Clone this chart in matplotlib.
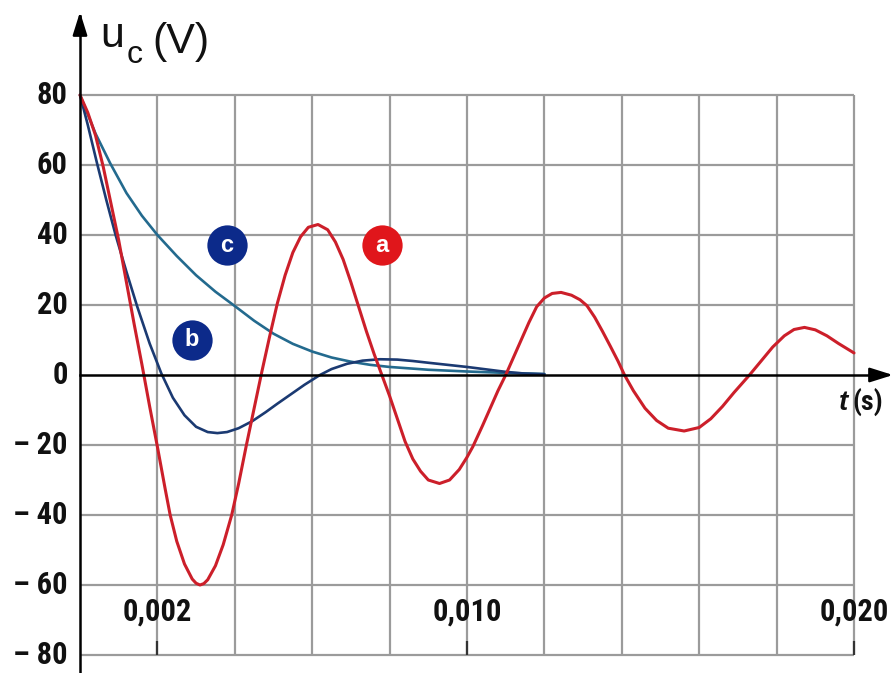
import numpy as np
import matplotlib
matplotlib.use("Agg")
import matplotlib.pyplot as plt
from matplotlib import font_manager as fm

# ---------------- data (time in ms, voltage in V) ----------------
a_t = [0, 0.2, 0.4, 0.6, 0.8, 1.0, 1.2, 1.4, 1.6, 1.8, 2.0, 2.2, 2.33, 2.5, 2.7, 2.9, 3.0, 3.1,
       3.2, 3.3, 3.5, 3.7, 3.92, 4.1, 4.3, 4.5, 4.7, 4.9, 5.1, 5.3, 5.5, 5.7, 5.9, 6.15,
       6.4, 6.6, 6.8, 7.0, 7.2, 7.4, 7.6, 7.8, 8.0, 8.2, 8.4, 8.6, 8.8, 9.0, 9.29,
       9.55, 9.8, 10.0, 10.15, 10.4, 10.6, 10.8, 11.0, 11.2, 11.4, 11.6, 11.8, 12.0, 12.2,
       12.43, 12.7, 12.92, 13.1, 13.3, 13.5, 13.7, 13.9, 14.07, 14.3, 14.6, 14.9, 15.2,
       15.61, 16.0, 16.3, 16.6, 16.9, 17.3, 17.6, 17.9, 18.2, 18.45, 18.72, 19.0, 19.3,
       19.6, 20.0]
a_v = [80, 75, 68.5, 59.5, 49, 38.5, 26.5, 14.5, 3, -9, -20.5, -32.5, -40, -47.5, -54, -58.3, -59.5, -60,
       -59.6, -58.5, -54.5, -48.5, -40, -31, -20, -9.5, 1, 11, 20.5, 28.5, 35, 39.5, 42.2, 43,
       41.5, 38, 33, 26.5, 19.5, 12.5, 6, 0, -6, -12.5, -19, -24, -27.5, -30, -31,
       -30, -27, -23.5, -20.5, -14.5, -9.5, -4.5, 0, 5, 10, 15, 19.5, 22, 23.3,
       23.6, 22.8, 21.5, 19.8, 16.5, 12.5, 8.3, 4, 0, -4.5, -9.5, -13, -15.2,
       -16, -15, -12.5, -9, -5, 0, 4, 8, 11.2, 13, 13.6, 12.9, 11.2,
       9, 6.3]

b_t = [0, 0.2, 0.44, 0.68, 0.92, 1.2, 1.48, 1.8, 2.1, 2.4, 2.7, 3.0, 3.3, 3.55, 3.8,
       4.1, 4.45, 4.8, 5.1, 5.45, 5.8, 6.2, 6.5, 6.9, 7.3, 7.75, 8.2, 8.6, 9.0, 9.5,
       10.0, 10.5, 11.0, 11.5, 12.0]
b_v = [80, 71.5, 60.5, 50, 40, 29.5, 19.5, 9, 0.5, -6.5, -11.5, -14.8, -16.3, -16.6, -16.3,
       -15.2, -13.2, -10.6, -8.2, -5.5, -2.8, 0, 1.7, 3.2, 4.1, 4.5, 4.4, 4.0, 3.5, 2.9,
       2.3, 1.6, 0.9, 0.4, 0.2]

c_t = [0, 0.4, 0.78, 1.2, 1.6, 2.0, 2.5, 3.0, 3.5, 4.0, 4.5, 5.0, 5.5, 6.0, 6.5,
       7.0, 7.5, 8.0, 9.0, 10.0, 11.0, 12.0]
c_v = [80, 69, 60.5, 52, 45.5, 40, 34, 28.5, 23.8, 19.7, 15.5, 11.8, 8.9, 6.7, 5.0,
       3.8, 2.9, 2.3, 1.5, 1.0, 0.6, 0.3]

y_ticks = [80, 60, 40, 20, 0, -20, -40, -60, -80]
y_tick_labels = ["80", "60", "40", "20", "0", "\u2013 20", "\u2013 40", "\u2013 60", "\u2013 80"]
x_ticks = [0.002, 0.010, 0.020]
x_tick_labels = ["0,002", "0,010", "0,020"]
x_grid = [0.002, 0.004, 0.006, 0.008, 0.010, 0.012, 0.014, 0.016, 0.018, 0.020]
y_grid = [80, 60, 40, 20, -20, -40, -60, -80]
curve_names = ["a", "b", "c"]

# ---------------- fonts ----------------
def pick(cands):
    for c in cands:
        try:
            fm.findfont(fm.FontProperties(family=c), fallback_to_default=False)
            return c
        except Exception:
            pass
    return "DejaVu Sans"

COND = pick(["Liberation Sans Narrow", "DejaVu Sans Condensed", "Roboto Condensed", "Liberation Sans"])
SANS = pick(["Liberation Sans", "DejaVu Sans"])

# ---------------- geometry ----------------
W, H = 895, 673
X0, PX_PER_S = 80.0, 38700.0
Y0, PX_PER_V = 375.0, 3.5

fig = plt.figure(figsize=(W / 100, H / 100), dpi=100)
fig.patch.set_facecolor("white")
ax = fig.add_axes([0, 0, 1, 1])
ax.set_xlim(-X0 / PX_PER_S, (W - X0) / PX_PER_S)
ax.set_ylim((Y0 - H) / PX_PER_V, Y0 / PX_PER_V)
ax.axis("off")

def fpx(x, y):
    return x / W, 1 - y / H

GRID = "#9b9b9b"
ax.vlines(x_grid, -80, 80, color=GRID, lw=1.6, zorder=1)
ax.hlines(y_grid, 0, 0.020, color=GRID, lw=1.6, zorder=1)
ax.vlines(x_ticks, -80, -76, color="#333333", lw=1.6, zorder=2)

# curves
RED, NAVY, TEAL = "#cc1f2a", "#1b3a72", "#236a8e"
kw = dict(solid_capstyle="round", solid_joinstyle="round")
ax.plot(np.array(c_t) / 1000, c_v, color=TEAL, lw=1.9, zorder=3, **kw)
ax.plot(np.array(b_t) / 1000, b_v, color=NAVY, lw=1.9, zorder=3, **kw)
ax.plot(np.array(a_t) / 1000, a_v, color=RED, lw=2.2, zorder=4, **kw)

# axes with arrows
top_v = (Y0 - 12) / PX_PER_V
right_t = (893 - X0) / PX_PER_S
ax.plot([0, right_t * 0.99], [0, 0], color="black", lw=1.8, zorder=5)
ax.annotate("", xy=(right_t, 0), xytext=(right_t - 0.0006, 0),
            arrowprops=dict(arrowstyle="-|>,head_length=0.7,head_width=0.22", color="black",
                            lw=1.8, mutation_scale=20, shrinkA=0, shrinkB=0), zorder=6)
ax.plot([0, 0], [(Y0 - H) / PX_PER_V, top_v * 0.99], color="black", lw=1.8, zorder=5)
ax.annotate("", xy=(0, top_v), xytext=(0, top_v - 6),
            arrowprops=dict(arrowstyle="-|>,head_length=0.7,head_width=0.22", color="black",
                            lw=1.8, mutation_scale=20, shrinkA=0, shrinkB=0), zorder=6)

# tick labels
lab_x = (68 - X0) / PX_PER_S
for v, s in zip(y_ticks, y_tick_labels):
    ax.text(lab_x, v, s, ha="right", va="center", fontsize=22, fontweight="bold",
            family=COND, color="#111111")
lab_y = (Y0 - 612) / PX_PER_V
for t, s in zip(x_ticks, x_tick_labels):
    ax.text(t, lab_y, s, ha="center", va="center", fontsize=22, fontweight="bold",
            family=COND, color="#111111")

# axis titles
fig.text(*fpx(100, 47), "u", fontsize=31, family=SANS, ha="left", va="baseline", color="#111111")
fig.text(*fpx(127, 63), "c", fontsize=23, family=SANS, ha="left", va="baseline", color="#111111")
fig.text(*fpx(152, 53), "(V)", fontsize=31, family=SANS, ha="left", va="baseline", color="#111111")
fig.text(*fpx(839, 410), "t", fontsize=20, family=SANS, fontweight="bold", style="italic",
         ha="left", va="baseline", color="#111111")
fig.text(*fpx(852, 410), "(s)", fontsize=20, family=COND, fontweight="bold",
         ha="left", va="baseline", color="#111111")

# curve name badges
badge_pos = {"a": (381.7, 245), "b": (191.7, 340), "c": (226.7, 245)}
badge_col = {"a": "#e0161b", "b": "#0c2a8a", "c": "#0c2a8a"}
for n in curve_names:
    px, py = badge_pos[n]
    t = (px - X0) / PX_PER_S
    v = (Y0 - py) / PX_PER_V
    ax.plot([t], [v], "o", ms=29, color=badge_col[n], mec="none", zorder=7)
    ax.text(t, v, n, ha="center", va="center", fontsize=17, fontweight="bold", family=SANS,
            color="white", zorder=8)

fig.savefig("out.png", dpi=100, facecolor="white")
